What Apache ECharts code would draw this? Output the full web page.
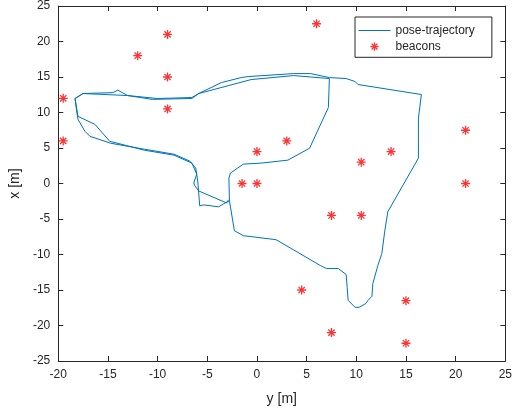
<!DOCTYPE html>
<html>
<head>
<meta charset="utf-8">
<script src="https://cdn.jsdelivr.net/npm/echarts@6/dist/echarts.min.js"></script>
<style>html,body{margin:0;padding:0;background:#fff;}#c{width:515px;height:414px;}</style>
</head>
<body>
<div id="c"></div>
<script>
// Beacons: horizontal value = y [m], vertical value = x [m]
const beaconY = [-19.5, -19.5, -12, -9, -9, -9, 6, 0, 3, -1.5, 0, 10.5, 13.5, 21, 21, 7.5, 10.5, 4.5, 15, 7.5, 15];
const beaconX = [12, 6, 18, 21, 15, 10.5, 22.5, 4.5, 6, 0, 0, 3, 4.5, 7.5, 0, -4.5, -4.5, -15, -16.5, -21, -22.5];

// Pose trajectory (y [m], x [m])
const trajY = [-2.77, -2.82, -2.67, -1.37, 0.42, 3.11, 5.30, 7.19, 7.29,
  3.70, -0.58, -5.86, -6.55, -10.04, -13.03, -17.51, -18.31, -18.21, -18.01, -17.31, -16.81, -14.72, -11.33, -8.35, -6.75, -6.16, -5.96, -5.76, -5.36, -3.86, -3.37, -2.77,
  -2.27, -1.37, 1.91, 2.61, 6.39, 6.99, 8.19, 8.98, 9.08, 9.18, 9.88, 10.28, 10.98, 11.18, 11.57, 11.67, 12.17, 12.57, 12.87, 13.17, 16.25, 16.25, 16.55, 10.18, 9.88, 8.98, 7.29,
  5.40, 3.70, -0.88, -1.57, -3.57, -5.86, -6.55, -10.54, -13.03, -14.0, -14.5, -17.51, -18.31, -18.01, -16.31, -14.82, -11.33, -8.35, -6.55, -6.06, -6.36, -6.26, -5.86, -3.07, -2.87];
const trajX = [-2.45, 0.77, 1.47, 2.73, 2.87, 3.29, 4.97, 10.71, 14.78,
  15.20, 14.64, 12.67, 12.11, 11.97, 12.39, 12.67, 11.97, 10.85, 9.03, 7.35, 6.65, 5.67, 4.83, 4.13, 3.15, 2.17, 0.35, -3.15, -3.01, -3.29, -2.87, -2.45,
  -6.65, -7.35, -7.91, -8.47, -11.56, -11.98, -11.98, -12.82, -14.64, -16.46, -17.44, -17.44, -16.88, -16.46, -15.90, -14.08, -11.56, -9.87, -6.65, -3.99, 3.57, 9.17, 12.53, 13.94, 14.36, 14.78, 14.92,
  15.48, 15.48, 15.06, 14.92, 14.22, 12.67, 11.97, 11.85, 12.39, 13.15, 12.8, 12.67, 11.97, 9.45, 8.33, 5.95, 4.69, 3.99, 2.87, 1.33, 0.07, -0.3, -1.05, -2.73, -2.31];

const xTicks = [-20, -15, -10, -5, 0, 5, 10, 15, 20, 25];
const yTicks = [-25, -20, -15, -10, -5, 0, 5, 10, 15, 20, 25];

const FONT = 'Liberation Sans, Arial, Helvetica, sans-serif';
const AX = '#262626';
const star = 'path://M10,0L10,20M0,10L20,10M3,3L17,17M3,17L17,3';
// legend icons: tiny end-segments only pad the bounding box
const starIcon = 'path://M0,0L0.01,0.01M17,7L17,27M7,17L27,17M10,10L24,24M10,24L24,10M34,34L33.99,33.99';
const lineIcon = 'path://M0,0L0.01,0M0,7L32,7M0,14L0.01,14';

const chart = echarts.init(document.getElementById('c'), null, {renderer: 'canvas'});
function axisCommon(extra) {
  return Object.assign({
    type: 'value',
    axisLine: {show: true, onZero: false, lineStyle: {color: AX, width: 1}},
    axisTick: {show: true, inside: true, length: 5, lineStyle: {color: AX, width: 1}},
    splitLine: {show: false},
    axisLabel: {show: true, color: AX, fontSize: 12, fontFamily: FONT, margin: 8},
  }, extra);
}
chart.setOption({
  animation: false,
  backgroundColor: '#fff',
  textStyle: {fontFamily: FONT},
  grid: {left: 55, right: 8, top: 4, bottom: 53, containLabel: false},
  xAxis: [
    axisCommon({min: xTicks[0], max: xTicks[xTicks.length - 1], interval: 5, position: 'bottom',
      name: 'y [m]', nameLocation: 'middle', nameGap: 31,
      nameTextStyle: {color: AX, fontSize: 14, fontFamily: FONT}}),
    axisCommon({min: xTicks[0], max: xTicks[xTicks.length - 1], interval: 5, position: 'top',
      axisLabel: {show: false}})
  ],
  yAxis: [
    axisCommon({min: yTicks[0], max: yTicks[yTicks.length - 1], interval: 5, position: 'left',
      name: 'x [m]', nameLocation: 'middle', nameGap: 34, nameRotate: 90,
      nameTextStyle: {color: AX, fontSize: 14, fontFamily: FONT}}),
    axisCommon({min: yTicks[0], max: yTicks[yTicks.length - 1], interval: 5, position: 'right',
      axisLabel: {show: false}})
  ],
  legend: {
    orient: 'vertical', left: 355, top: 17,
    itemWidth: 32, itemHeight: 14, itemGap: 1,
    padding: [6, 17, 3, 3],
    borderColor: AX, borderWidth: 1, backgroundColor: '#fff',
    textStyle: {color: AX, fontSize: 12, fontFamily: FONT},
    data: [
      {name: 'pose-trajectory', icon: lineIcon, itemStyle: {color: 'rgba(0,0,0,0)', borderColor: '#0072BD', borderWidth: 1}},
      {name: 'beacons', icon: starIcon, itemStyle: {color: 'rgba(0,0,0,0)', borderColor: '#FF0000', borderWidth: 1.3}}
    ]
  },
  series: [
    {
      name: 'pose-trajectory', type: 'line', xAxisIndex: 0, yAxisIndex: 0,
      data: trajY.map((v, i) => [v, trajX[i]]),
      showSymbol: false, symbol: 'none',
      lineStyle: {color: '#0072BD', width: 1},
      itemStyle: {color: '#0072BD'},
      z: 2
    },
    {
      name: 'beacons', type: 'scatter', xAxisIndex: 0, yAxisIndex: 0,
      data: beaconY.map((v, i) => [v, beaconX[i]]),
      symbol: star, symbolSize: 9,
      itemStyle: {color: 'rgba(0,0,0,0)', borderColor: '#FF0000', borderWidth: 1.3},
      z: 3
    }
  ]
});
</script>
</body>
</html>
